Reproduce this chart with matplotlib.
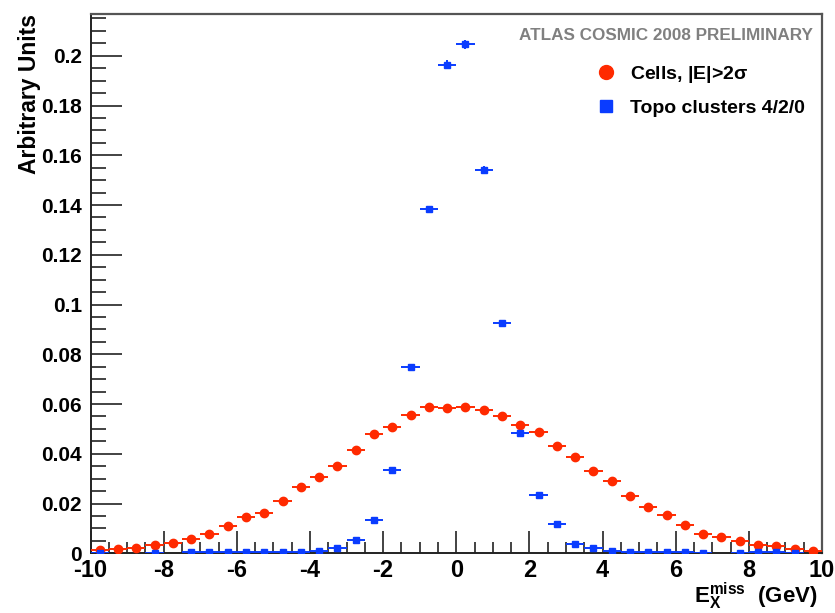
import numpy as np
import matplotlib
matplotlib.use("Agg")
import matplotlib.pyplot as plt
from matplotlib.ticker import MultipleLocator
from matplotlib.lines import Line2D

# bin layout: 40 bins of 0.5 GeV from -10 to 10
bin_edges = np.arange(-10, 10.01, 0.5)
bin_centers = 0.5 * (bin_edges[:-1] + bin_edges[1:])

# Cells, |E|>2 sigma
cells = [0.0012, 0.0016, 0.0020, 0.0033, 0.0041, 0.0059, 0.0076, 0.0110,
         0.0146, 0.0162, 0.0209, 0.0265, 0.0308, 0.0351, 0.0416, 0.0481,
         0.0506, 0.0557, 0.0588, 0.0584, 0.0589, 0.0575, 0.0551, 0.0516,
         0.0486, 0.0432, 0.0386, 0.0330, 0.0292, 0.0230, 0.0187, 0.0154,
         0.0115, 0.0076, 0.0064, 0.0049, 0.0033, 0.0029, 0.0016, 0.0010]

# Topo clusters 4/2/0 (None = empty bin)
topo = [0.0002, None, None, 0.0002, None, 0.0004, 0.0004, 0.0004,
        0.0007, 0.0006, 0.0006, 0.0006, 0.0009, 0.0022, 0.0052, 0.0134,
        0.0336, 0.0749, 0.1383, 0.1964, 0.2046, 0.1541, 0.0926, 0.0482,
        0.0233, 0.0117, 0.0039, 0.0021, 0.0011, 0.0005, 0.0005, 0.0005,
        0.0005, 0.0002, None, 0.0002, 0.0005, 0.0005, 0.0001, None]
topo_err = [0.0001, 0, 0, 0.0001, 0, 0.0001, 0.0001, 0.0001,
            0.0001, 0.0001, 0.0001, 0.0001, 0.0002, 0.0003, 0.0004, 0.0005,
            0.0008, 0.0011, 0.0015, 0.0018, 0.0019, 0.0016, 0.0012, 0.0009,
            0.0006, 0.0004, 0.0003, 0.0002, 0.0002, 0.0001, 0.0001, 0.0001,
            0.0001, 0.0001, 0, 0.0001, 0.0001, 0.0001, 0.0001, 0]

red = "#ff2a00"
blue = "#0a3cff"

plt.rcParams["font.family"] = ["Liberation Sans", "DejaVu Sans"]
plt.rcParams["font.weight"] = "bold"
plt.rcParams["mathtext.fontset"] = "custom"
plt.rcParams["mathtext.rm"] = "Liberation Sans:bold"
plt.rcParams["mathtext.it"] = "Liberation Sans:bold"
plt.rcParams["mathtext.bf"] = "Liberation Sans:bold"

fig = plt.figure(figsize=(8.35, 6.13), dpi=100)
ax = fig.add_axes([90.5 / 835, 1 - 553.3 / 613, 731.5 / 835, (553.3 - 14) / 613])

# cells
ax.errorbar(bin_centers, cells, xerr=0.25, yerr=0.0003, fmt="o", color=red,
            ecolor=red, elinewidth=1.4, capsize=0, markersize=6, zorder=3)

# topo clusters, skip empty bins
mask = np.array([v is not None for v in topo])
topo_vals = np.array([v if v is not None else 0 for v in topo])
ax.errorbar(bin_centers[mask], topo_vals[mask], xerr=0.25,
            yerr=np.array(topo_err)[mask], fmt="s", color=blue, ecolor=blue,
            elinewidth=1.4, capsize=0, markersize=5, zorder=4)

ax.set_xlim(-10, 10)
ax.set_ylim(0, 0.2168)

ax.xaxis.set_major_locator(MultipleLocator(2))
ax.xaxis.set_minor_locator(MultipleLocator(0.5))
ax.yaxis.set_major_locator(MultipleLocator(0.02))
ax.yaxis.set_minor_locator(MultipleLocator(0.005))
ax.tick_params(axis="both", which="both", direction="in", top=False, right=False,
               width=1.2, color="#222222")
ax.tick_params(axis="x", which="major", length=16, labelsize=17, pad=4)
ax.tick_params(axis="x", which="minor", length=8)
ax.tick_params(axis="y", which="major", length=22, labelsize=15, pad=6)
ax.tick_params(axis="y", which="minor", length=11)

ax.set_yticks(np.arange(0, 0.2001, 0.02))
ax.set_yticklabels(["0", "0.02", "0.04", "0.06", "0.08", "0.1", "0.12",
                    "0.14", "0.16", "0.18", "0.2"])
ax.set_xticks(np.arange(-10, 10.01, 2))
ax.set_xticklabels(["-10", "-8", "-6", "-4", "-2", "0", "2", "4", "6", "8", "10"])

for side in ["left", "bottom"]:
    ax.spines[side].set_color("#222222")
    ax.spines[side].set_linewidth(1.4)
for side in ["top", "right"]:
    ax.spines[side].set_color("#555555")
    ax.spines[side].set_linewidth(1.6)

ax.set_ylabel("Arbitrary Units", fontsize=16.5, fontweight="bold")
ax.yaxis.set_label_coords(-0.068, 1.0)
ax.yaxis.label.set_horizontalalignment("right")

fig.text(818 / 835, 1 - 596 / 613, r"E$_\mathrm{X}^\mathrm{miss}$  (GeV)",
         ha="right", va="center", fontsize=16, fontweight="bold")

ax.text(0.988, 0.961, "ATLAS COSMIC 2008 PRELIMINARY", transform=ax.transAxes,
        ha="right", va="center", fontsize=12.3, fontweight="bold", color="#808080")

handles = [Line2D([], [], marker="o", linestyle="none", color=red, markersize=10),
           Line2D([], [], marker="s", linestyle="none", color=blue, markersize=9)]
ax.legend(handles, [r"Cells, |E|>2$\sigma$", "Topo clusters 4/2/0"],
          loc="upper right", bbox_to_anchor=(1.0, 0.94), frameon=False,
          handletextpad=0.6, labelspacing=0.75, handlelength=1.2,
          prop={"weight": "bold", "size": 14})

fig.savefig("out.png", dpi=100)
